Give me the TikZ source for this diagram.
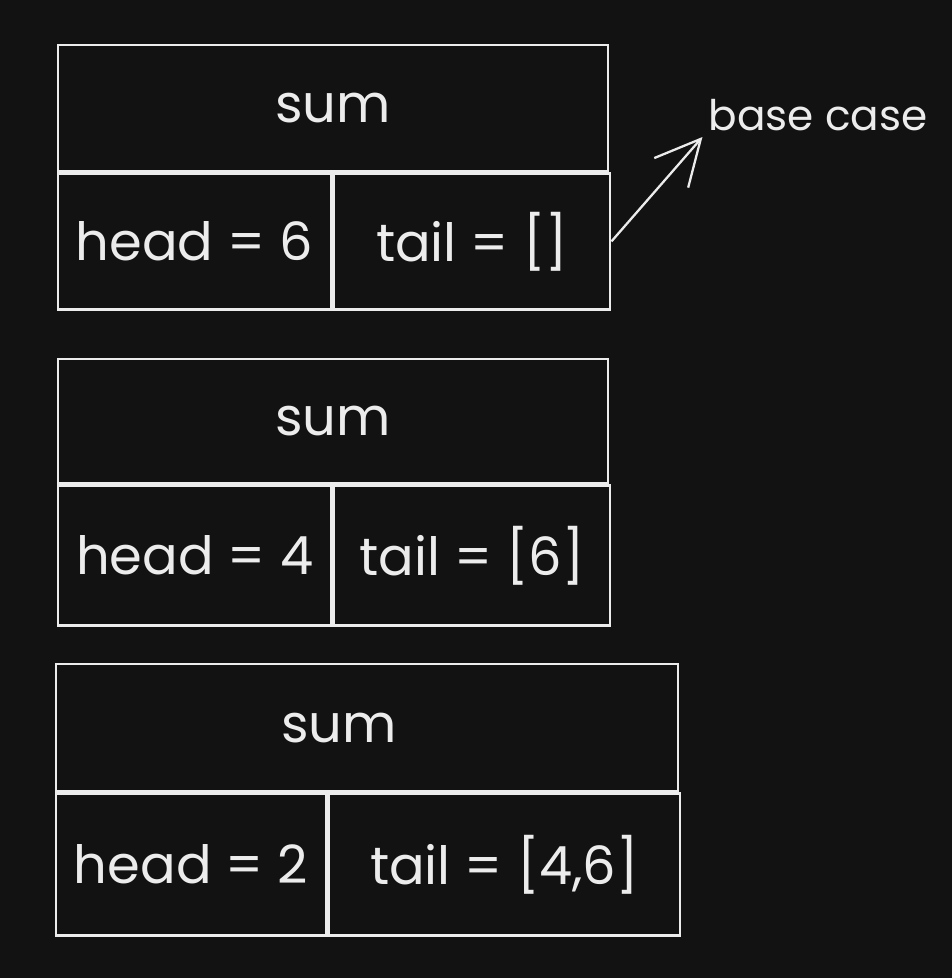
\documentclass[tikz,border=0pt]{standalone}
\usepackage{fontspec}
\setmainfont{Poppins}
\usepackage{tikz}
\usetikzlibrary{arrows.meta,positioning,backgrounds}
\definecolor{bgdark}{HTML}{121212}
\definecolor{chalk}{HTML}{ECECEC}

\begin{document}
\begin{tikzpicture}[x=0.02cm, y=-0.02cm,
    cell/.style={draw=chalk, line width=1.3pt, anchor=north west, inner sep=0pt,
      text=chalk, font=\fontsize{30}{36}\selectfont}]
    \fill[bgdark] (0,0) rectangle (952,978);
    \useasboundingbox (0,0) rectangle (952,978);

    % frame for the base case
    \node[cell, minimum width=11cm, minimum height=2.52cm] (s1) at (57,44) {sum};
    \node[cell, minimum width=5.46cm, minimum height=2.72cm] (h1) at (s1.south west) {head = 6};
    \node[cell, minimum width=5.54cm, minimum height=2.72cm] (t1) at (h1.north east) {tail = []};

    % frame with one element left
    \node[cell, minimum width=11cm, minimum height=2.48cm] (s2) at (57,358) {sum};
    \node[cell, minimum width=5.46cm, minimum height=2.8cm] (h2) at (s2.south west) {head = 4};
    \node[cell, minimum width=5.54cm, minimum height=2.8cm] (t2) at (h2.north east) {tail = [6]};

    % first call
    \node[cell, minimum width=12.44cm, minimum height=2.54cm] (s3) at (55,663) {sum\kern1.12cm};
    \node[cell, minimum width=5.4cm, minimum height=2.84cm] (h3) at (s3.south west) {head = 2};
    \node[cell, minimum width=7.04cm, minimum height=2.84cm] (t3) at (h3.north east) {tail = [4,6]};

    \node[text=chalk, font=\fontsize{24}{29}\selectfont] (bc) at (818,115) {base case};
    \draw[-{Straight Barb[length=9mm, width=9mm]}, chalk, line width=1.3pt] (t1.east) -- (bc.south west);
  \end{tikzpicture}
\end{document}
